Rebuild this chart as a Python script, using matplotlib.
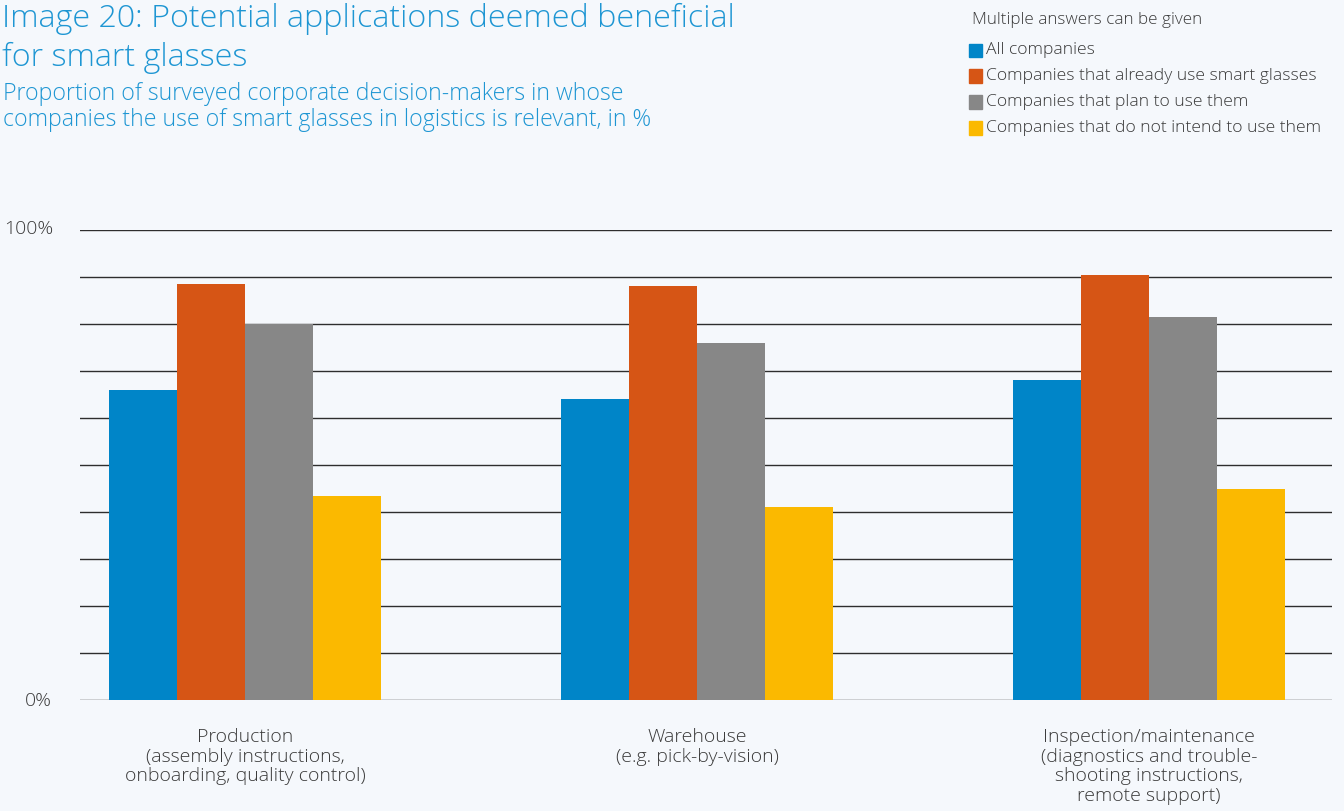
import matplotlib
matplotlib.use("Agg")
import matplotlib.pyplot as plt
import numpy as np

plt.rcParams["font.family"] = ["Open Sans", "DejaVu Sans"]
plt.rcParams["font.weight"] = "light"

categories = [
    "Production\n(assembly instructions,\nonboarding, quality control)",
    "Warehouse\n(e.g. pick-by-vision)",
    "Inspection/maintenance\n(diagnostics and trouble-\nshooting instructions,\nremote support)",
]
series_names = [
    "All companies",
    "Companies that already use smart glasses",
    "Companies that plan to use them",
    "Companies that do not intend to use them",
]
all_companies = [66, 64, 68]
already_use = [88.5, 88, 90.5]
plan_to_use = [80, 76, 81.5]
no_intent = [43.5, 41, 45]
values = [all_companies, already_use, plan_to_use, no_intent]

colors = ["#0085C8", "#D65515", "#878787", "#FBB900"]
BG = "#F5F8FC"
TITLE = "#1E96D3"
INK = "#3A3A3A"

fig = plt.figure(figsize=(13.44, 8.11), dpi=100, facecolor=BG)
ax = fig.add_axes([80 / 1344, 1 - 700 / 811, (1332 - 80) / 1344, 470 / 811])
ax.set_facecolor(BG)

x = np.arange(len(categories))
w = 68 / 452
for i, (vals, c) in enumerate(zip(values, colors)):
    ax.bar(x + (i - 1.5) * w, vals, width=w, color=c, zorder=3,
           label=series_names[i])

for yv in range(0, 101, 10):
    ax.axhline(yv, color="#2E2E2E", lw=1, zorder=1)

ax.set_xlim(-165 / 452, 2 + 183 / 452)
ax.set_ylim(0, 100)
for sp in ax.spines.values():
    sp.set_visible(False)
ax.set_yticks([])
ax.set_xticks(x)
ax.set_xticklabels(categories, fontsize=14, color=INK, linespacing=1.13)
ax.tick_params(axis="x", length=0, pad=20)

fig.text(52 / 1344, 1 - 701 / 811, "0%", ha="right", va="center",
         fontsize=14, color=INK)
fig.text(4 / 1344, 1 - 229 / 811, "100%", ha="left", va="center",
         fontsize=14, color=INK)

fig.text(2 / 1344, 1 - 3 / 811,
         "Image 20: Potential applications deemed beneficial\nfor smart glasses",
         ha="left", va="top", fontsize=23.2, color=TITLE, linespacing=1.3)
fig.text(3 / 1344, 1 - 82 / 811,
         "Proportion of surveyed corporate decision-makers in whose\n"
         "companies the use of smart glasses in logistics is relevant, in %",
         ha="left", va="top", fontsize=16.7, color=TITLE, linespacing=1.12)

fig.text(972 / 1344, 1 - 20 / 811, "Multiple answers can be given",
         ha="left", va="center", fontsize=12.3, color=INK)
for i, (name, c) in enumerate(zip(series_names, colors)):
    yc = 1 - (50 + 26 * i) / 811
    fig.patches.append(plt.Rectangle((969 / 1344, yc - 6.5 / 811),
                                     13 / 1344, 13 / 811, color=c,
                                     transform=fig.transFigure, figure=fig))
    fig.text(986 / 1344, yc, name, ha="left", va="center", fontsize=12.6,
             color=INK)

fig.savefig("out.png", dpi=100, facecolor=BG)
